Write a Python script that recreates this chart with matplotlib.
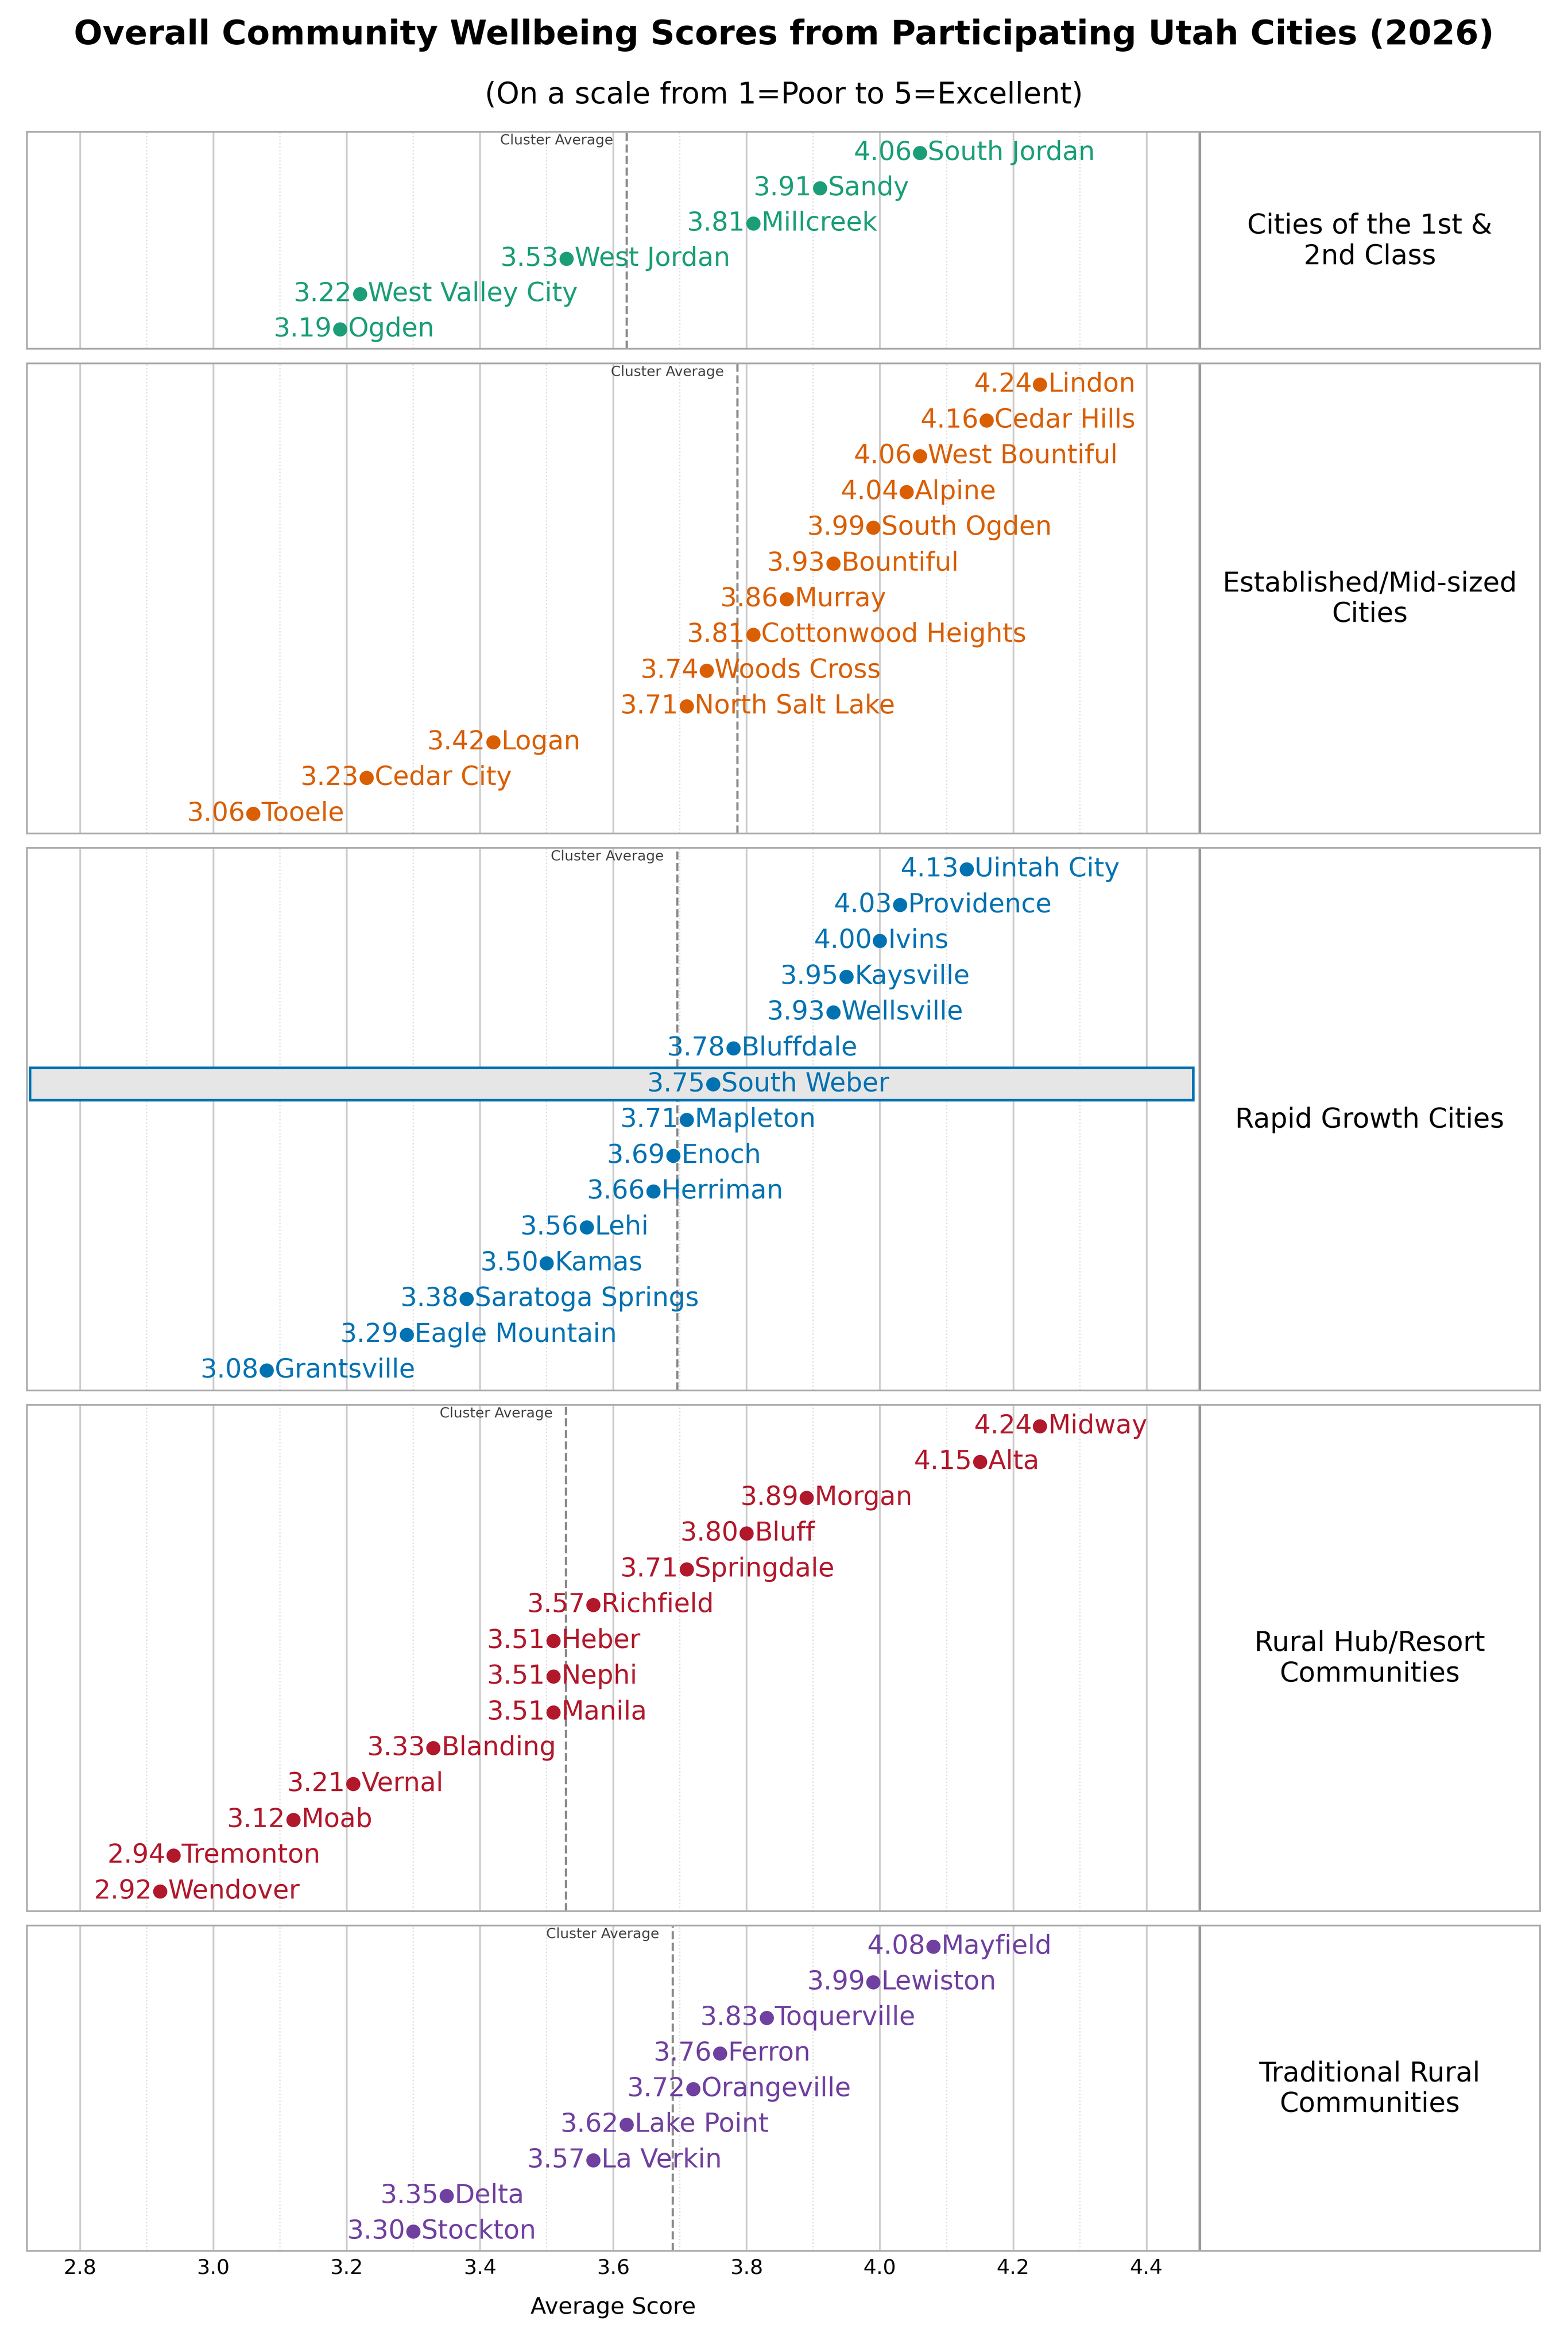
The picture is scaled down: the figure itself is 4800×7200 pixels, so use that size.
import matplotlib.pyplot as plt
from matplotlib.patches import Rectangle

groups = ["Cities of the 1st &\n2nd Class", "Established/Mid-sized\nCities", "Rapid Growth Cities",
          "Rural Hub/Resort\nCommunities", "Traditional Rural\nCommunities"]
colors = ["#1b9e77", "#d95f02", "#0072b2", "#b2182b", "#7040a0"]
averages = [3.62, 3.786, 3.696, 3.529, 3.689]

cities = [
    ["South Jordan", "Sandy", "Millcreek", "West Jordan", "West Valley City", "Ogden"],
    ["Lindon", "Cedar Hills", "West Bountiful", "Alpine", "South Ogden", "Bountiful", "Murray",
     "Cottonwood Heights", "Woods Cross", "North Salt Lake", "Logan", "Cedar City", "Tooele"],
    ["Uintah City", "Providence", "Ivins", "Kaysville", "Wellsville", "Bluffdale", "South Weber",
     "Mapleton", "Enoch", "Herriman", "Lehi", "Kamas", "Saratoga Springs", "Eagle Mountain", "Grantsville"],
    ["Midway", "Alta", "Morgan", "Bluff", "Springdale", "Richfield", "Heber", "Nephi", "Manila",
     "Blanding", "Vernal", "Moab", "Tremonton", "Wendover"],
    ["Mayfield", "Lewiston", "Toquerville", "Ferron", "Orangeville", "Lake Point", "La Verkin",
     "Delta", "Stockton"],
]
scores = [
    [4.06, 3.91, 3.81, 3.53, 3.22, 3.19],
    [4.24, 4.16, 4.06, 4.04, 3.99, 3.93, 3.86, 3.81, 3.74, 3.71, 3.42, 3.23, 3.06],
    [4.13, 4.03, 4.00, 3.95, 3.93, 3.78, 3.75, 3.71, 3.69, 3.66, 3.56, 3.50, 3.38, 3.29, 3.08],
    [4.24, 4.15, 3.89, 3.80, 3.71, 3.57, 3.51, 3.51, 3.51, 3.33, 3.21, 3.12, 2.94, 2.92],
    [4.08, 3.99, 3.83, 3.76, 3.72, 3.62, 3.57, 3.35, 3.30],
]
highlight = "South Weber"

fig = plt.figure(figsize=(10, 15), dpi=480)
gs = fig.add_gridspec(5, 1, height_ratios=[len(c) for c in cities], hspace=0.035,
                      left=0.017, right=0.982, top=0.944, bottom=0.043)

xmin, xmax, xsplit = 2.72, 4.99, 4.48
ticks = [2.8, 3.0, 3.2, 3.4, 3.6, 3.8, 4.0, 4.2, 4.4]
minor = [2.9, 3.1, 3.3, 3.5, 3.7, 3.9, 4.1, 4.3]

for i in range(5):
    ax = fig.add_subplot(gs[i])
    n = len(cities[i])
    col = colors[i]
    ax.set_xlim(xmin, xmax)
    ax.set_ylim(n - 0.45, -0.6)
    for t in ticks:
        ax.axvline(t, color="#cccccc", lw=0.8, zorder=0)
    for t in minor:
        ax.axvline(t, color="#dddddd", lw=0.6, ls=":", zorder=0)
    ax.axvline(xsplit, color="#999999", lw=1.2, zorder=1)
    ax.axvline(averages[i], color="#888888", lw=1, ls="--", zorder=1)
    ax.text(averages[i] - 0.02, -0.35, "Cluster Average", fontsize=6.5, color="#444444",
            ha="right", va="center")
    for j, (c, s) in enumerate(zip(cities[i], scores[i])):
        if c == highlight:
            ax.add_patch(Rectangle((xmin + 0.005, j - 0.45), xsplit - xmin - 0.015, 0.9,
                                   facecolor="#e6e6e6", edgecolor=col, lw=1.2, zorder=1))
        ax.plot(s, j, "o", color=col, ms=5.5, zorder=3)
        ax.text(s - 0.012, j, f"{s:.2f}", color=col, fontsize=12, ha="right", va="center", zorder=4)
        ax.text(s + 0.012, j, c, color=col, fontsize=12, ha="left", va="center", zorder=4)
    ax.text((xsplit + xmax) / 2, (n - 1) / 2, groups[i], fontsize=12.5, ha="center", va="center")
    ax.set_yticks([])
    ax.set_xticks(ticks)
    if i < 4:
        ax.tick_params(axis="x", length=0, labelbottom=False)
    else:
        ax.tick_params(axis="x", length=0, labelsize=9.5)
        ax.set_xlabel("Average Score", fontsize=10.5)
        ax.xaxis.set_label_coords((3.6 - xmin) / (xmax - xmin), -0.14)
    for sp in ax.spines.values():
        sp.set_color("#aaaaaa")

fig.text(0.5, 0.985, "Overall Community Wellbeing Scores from Participating Utah Cities (2026)",
         fontsize=15.5, fontweight="bold", ha="center", va="center")
fig.text(0.5, 0.9595, "(On a scale from 1=Poor to 5=Excellent)", fontsize=13.5, ha="center", va="center")

fig.savefig("out.png")
